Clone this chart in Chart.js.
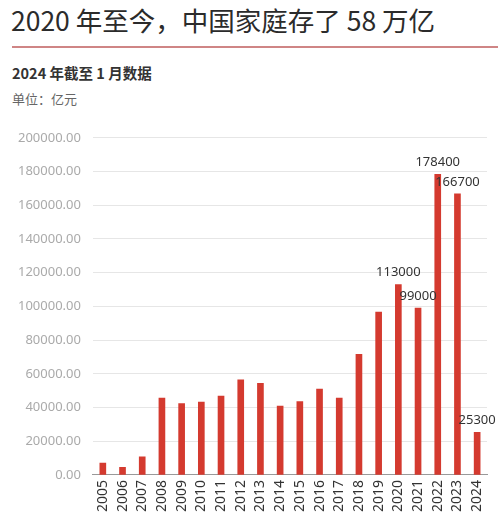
<!DOCTYPE html>
<html><head><meta charset="utf-8">
<script src="https://cdn.jsdelivr.net/npm/chart.js@4"></script>
<style>
html,body{margin:0;padding:0;background:#fff;width:500px;height:517px;overflow:hidden;font-family:"Noto Sans CJK SC","Noto Sans",sans-serif;}
#title{position:absolute;left:11px;top:0px;font-size:26.5px;color:#2b2b2b;white-space:nowrap;}
#rule{position:absolute;left:12px;top:46px;width:486px;height:2px;background:#cf8585;}
#sub{position:absolute;left:12px;top:62px;font-size:14.5px;font-weight:bold;color:#333;}
#unit{position:absolute;left:12px;top:89px;font-size:13px;color:#666;}
#wrap{position:absolute;left:0;top:118px;width:500px;height:399px;}
</style></head><body>
<div id="title">2020 年至今，中国家庭存了 58 万亿</div>
<div id="rule"></div>
<div id="sub">2024 年截至 1 月数据</div>
<div id="unit">单位：亿元</div>
<div id="wrap"><canvas id="c"></canvas></div>
<script>
const categories = ['2005','2006','2007','2008','2009','2010','2011','2012','2013','2014','2015','2016','2017','2018','2019','2020','2021','2022','2023','2024'];
const values = [7000,4600,10700,45600,42400,43300,46800,56500,54300,40900,43600,51000,45600,71500,96600,113000,99000,178400,166700,25300];
const labelled = ['2020','2021','2022','2023','2024'];

const valueLabels = {
  id:'valueLabels',
  afterDatasetsDraw(chart){
    const ctx = chart.ctx;
    const meta = chart.getDatasetMeta(0);
    ctx.save();
    ctx.font = '13px "Noto Sans","DejaVu Sans",sans-serif';
    ctx.fillStyle = '#333';
    ctx.textAlign = 'center';
    ctx.textBaseline = 'middle';
    meta.data.forEach((bar,i)=>{
      if(!labelled.includes(categories[i])) return;
      ctx.fillText(String(values[i]), bar.x, bar.y - 12);
    });
    ctx.restore();
  }
};

new Chart(document.getElementById('c'), {
  type:'bar',
  data:{labels:categories, datasets:[{data:values, backgroundColor:'#d43a2f', barThickness:6}]},
  options:{
    responsive:true, maintainAspectRatio:false, animation:false,
    layout:{padding:{top:15,right:13,left:6,bottom:0}},
    plugins:{legend:{display:false}, tooltip:{enabled:false}},
    scales:{
      x:{
        grid:{display:false, drawTicks:false},
        border:{color:'#999'},
        ticks:{color:'#333', font:{size:14, family:'"Noto Sans","DejaVu Sans",sans-serif'}, maxRotation:90, minRotation:90, padding:5, autoSkip:false}
      },
      y:{
        min:0, max:200000,
        grid:{color:'#e6e6e6', drawTicks:false},
        border:{display:false},
        ticks:{stepSize:20000, color:'#aaa', padding:12, font:{size:13, family:'"Noto Sans","DejaVu Sans",sans-serif'},
          callback:(v)=>Number(v).toFixed(2)}
      }
    }
  },
  plugins:[valueLabels]
});
</script>
</body></html>
